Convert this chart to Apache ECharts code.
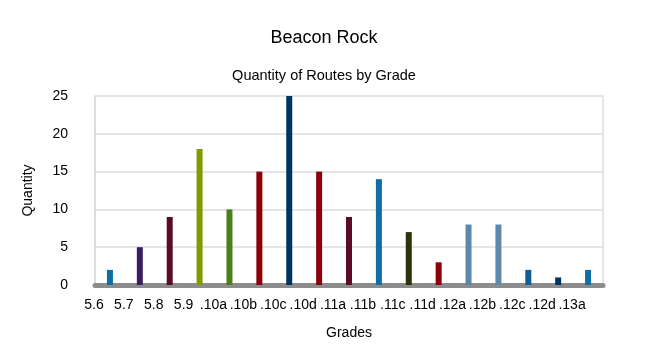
<!DOCTYPE html>
<html>
<head>
<meta charset="utf-8">
<script src="https://cdn.jsdelivr.net/npm/echarts@6/dist/echarts.min.js"></script>
<style>html,body{margin:0;padding:0;background:#fff;}#c{width:648px;height:359px;}</style>
</head>
<body>
<div id="c"></div>
<script>
const categories = ['5.6','5.7','5.8','5.9','.10a','.10b','.10c','.10d','.11a','.11b','.11c','.11d','.12a','.12b','.12c','.12d','.13a'];
const quantities = [2,5,9,18,10,15,25,15,9,14,7,3,8,8,2,1,2];
const barColors = ['#0f6ea3','#3c1d5c','#5c0a26','#809b00','#4a7f1a','#8c000c','#00335f','#8c000c','#5c0a26','#0f6ea3','#2a350a','#8c000c','#5c88ab','#5c88ab','#0f5e94','#00335f','#0f6ea3'];
const yTicks = [0,5,10,15,20,25];

const chart = echarts.init(document.getElementById('c'), null, {renderer:'canvas'});
const font = 'Liberation Sans, Arial, sans-serif';
chart.setOption({
  animation:false,
  backgroundColor:'#fff',
  title:[
    {text:'Beacon Rock', left:'center', top:24, textStyle:{fontFamily:font, fontSize:18, fontWeight:'normal', color:'#000'}},
    {text:'Quantity of Routes by Grade', left:'center', top:63, textStyle:{fontFamily:font, fontSize:14.5, fontWeight:'normal', color:'#000'}}
  ],
  grid:{left:95, right:45, top:96, bottom:74, containLabel:false},
  xAxis:{
    type:'category', data:categories, boundaryGap:true,
    name:'Grades', nameLocation:'middle', nameGap:41,
    nameTextStyle:{fontFamily:font, fontSize:14, color:'#000'},
    axisLine:{show:true, lineStyle:{color:'#8c8c8c', width:5}},
    axisTick:{show:false},
    axisLabel:{fontFamily:font, fontSize:14, color:'#000', margin:13, interval:0, padding:[0,32,0,0]}
  },
  yAxis:[{
    type:'value', min:yTicks[0], max:yTicks[yTicks.length-1], interval:5,
    name:'Quantity', nameLocation:'middle', nameGap:60, nameRotate:90,
    nameTextStyle:{fontFamily:font, fontSize:14, color:'#000'},
    axisLine:{show:true, lineStyle:{color:'#d0d0d0', width:1.5}},
    axisTick:{show:false},
    axisLabel:{fontFamily:font, fontSize:14, color:'#000', margin:27},
    splitLine:{show:true, lineStyle:{color:'#dcdcdc', width:1.5}}
  },{
    type:'value', min:0, max:25, interval:5, position:'right',
    axisLine:{show:true, lineStyle:{color:'#dcdcdc', width:1.5}},
    axisTick:{show:false}, axisLabel:{show:false}, splitLine:{show:false}
  }],
  series:[{
    type:'bar', barWidth:6,
    data:quantities.map((v,i)=>({value:v, itemStyle:{color:barColors[i]}}))
  }]
});
</script>
</body>
</html>
